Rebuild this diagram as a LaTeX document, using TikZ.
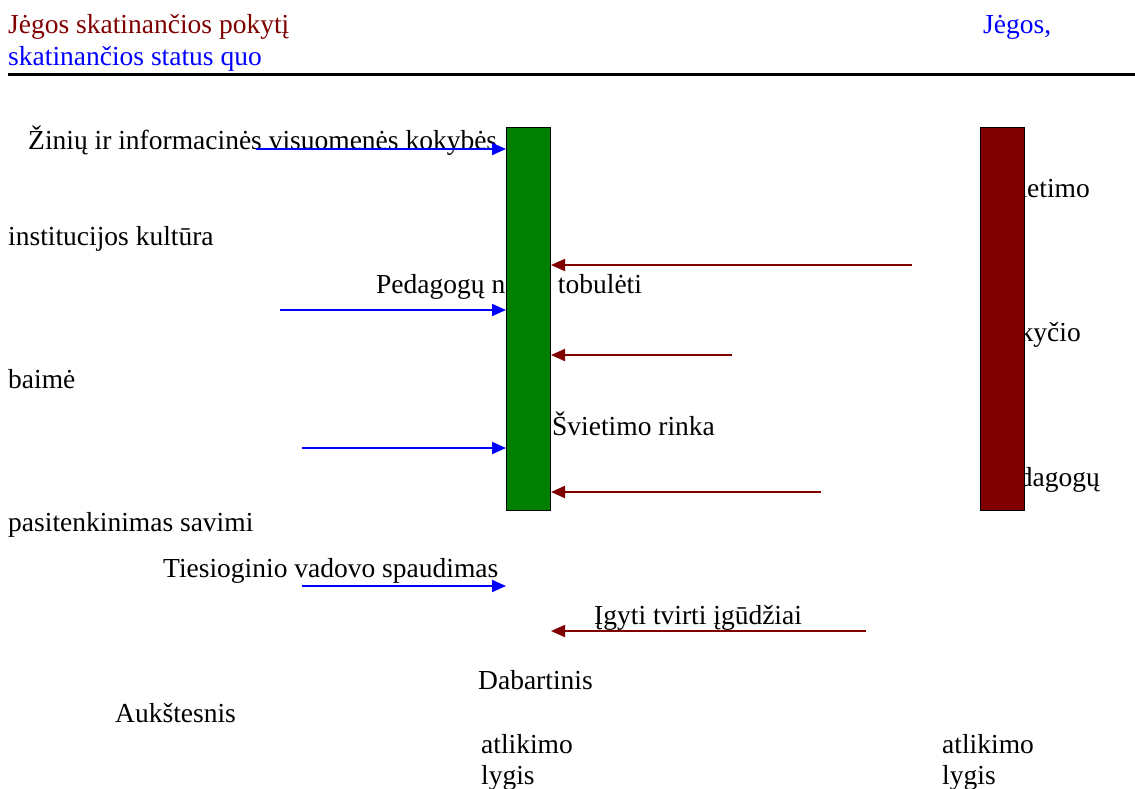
\documentclass[tikz,border=0pt]{standalone}
\usepackage{fontspec}
\setmainfont{Liberation Serif}
\usetikzlibrary{arrows.meta}
\definecolor{dred}{RGB}{128,0,0}
\definecolor{dgreen}{RGB}{0,128,0}
\definecolor{pblue}{RGB}{0,0,255}
\begin{document}
\begin{tikzpicture}[x=1pt,y=-1pt,
  txt/.style={inner sep=0pt, anchor=base west, font=\fontsize{27.5}{33}\selectfont},
  txtr/.style={txt, anchor=base east},
  bar/.style={draw=black, line width=1pt, minimum width=44pt, minimum height=383pt, inner sep=0pt, anchor=north west},
  inarrow/.style={pblue, line width=2pt, -{Triangle[length=14pt,width=12pt]}},
  outarrow/.style={dred, line width=2pt, -{Triangle[length=14pt,width=12pt]}}]
\useasboundingbox (0,0) rectangle (1135,788);
\fill[white] (0,0) rectangle (1135,788);

% header
\node[txt, text=dred] (h1) at (8,33) {Jėgos skatinančios pokytį};
\node[txt, text=pblue] (h2) at (983,33) {Jėgos,};
\node[txt, text=pblue] (h3) at (8,65) {skatinančios status quo};
\draw[line width=3pt] (8,74.5) -- (1135,74.5);

% texts partly hidden behind the bars
\node[txt] (ped) at (376,293) {Pedagogų noras tobulėti};
\node[txtr] (r1) at (1090,197) {Švietimo};
\node[txtr] (r2) at (1081,341) {pokyčio};
\node[txtr] (r3) at (1100,486) {pedagogų};

% bars
\node[bar, fill=dgreen] (green) at (506,127) {};
\node[bar, fill=dred] (red) at (979.5,127) {};

% left texts
\node[txt] (zin) at (28,149) {Žinių ir informacinės visuomenės kokybės};
\node[txt] (inst) at (8,245) {institucijos kultūra};
\node[txt] (baim) at (8,388) {baimė};
\node[txt] (pas) at (8,531) {pasitenkinimas savimi};
\node[txt] (ties) at (163,577) {Tiesioginio vadovo spaudimas};
\node[txt] (rink) at (552,435) {Švietimo rinka};
\node[txt] (igy) at (594,624) {Įgyti tvirti įgūdžiai};
\node[txt] (dab) at (478,689) {Dabartinis};
\node[txt] (auk) at (115,722) {Aukštesnis};
\node[txt] (at1) at (481,753) {atlikimo};
\node[txt] (ly1) at (481,784) {lygis};
\node[txt] (at2) at (942,753) {atlikimo};
\node[txt] (ly2) at (942,784) {lygis};

% arrow free ends
\coordinate (b1) at (256,149);
\coordinate (b2) at (280,310);
\coordinate (b3) at (302,448);
\coordinate (b4) at (302,586);
\coordinate (d1) at (912,265);
\coordinate (d2) at (732,355);
\coordinate (d3) at (821,492);
\coordinate (d4) at (866,631);

\draw[inarrow] (b1) -- (b1 -| green.west);
\draw[inarrow] (b2) -- (b2 -| green.west);
\draw[inarrow] (b3) -- (b3 -| green.west);
\draw[inarrow] (b4) -- (b4 -| green.west);
\draw[outarrow] (d1) -- (d1 -| green.east);
\draw[outarrow] (d2) -- (d2 -| green.east);
\draw[outarrow] (d3) -- (d3 -| green.east);
\draw[outarrow] (d4) -- (d4 -| green.east);
\end{tikzpicture}
\end{document}
